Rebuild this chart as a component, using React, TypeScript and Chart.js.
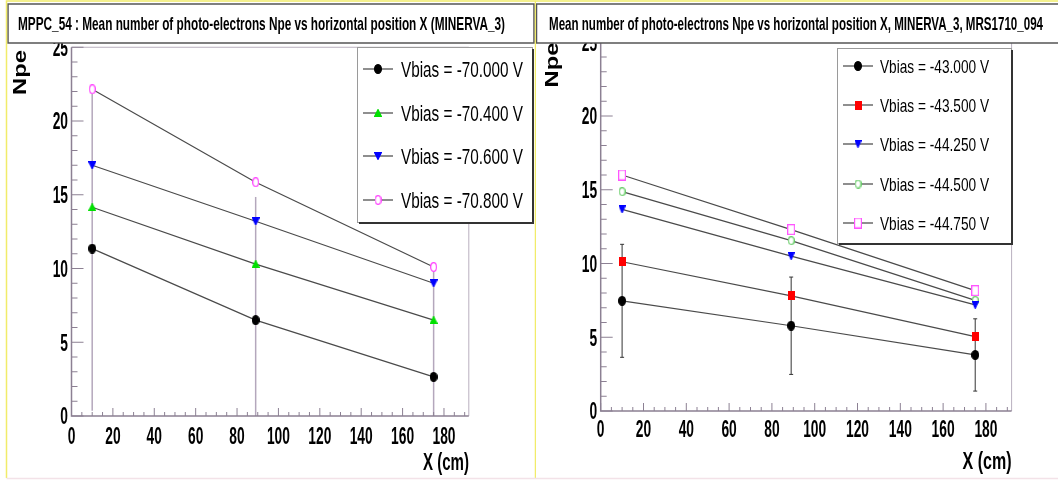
import React, { useEffect, useRef } from "react";
import { Chart, registerables } from "chart.js";

Chart.register(...registerables);

// ---------- DATA ----------
const xPositions = [10, 89, 175];

const leftSeriesLabels = [
  "Vbias = -70.000 V",
  "Vbias = -70.400 V",
  "Vbias = -70.600 V",
  "Vbias = -70.800 V",
];
const leftVbias70000 = [11.35, 6.5, 2.65];
const leftVbias70400 = [14.15, 10.3, 6.5];
const leftVbias70600 = [17.0, 13.2, 9.0];
const leftVbias70800 = [22.15, 15.85, 10.1];
const leftErrors70000 = [11.0, 8.35, 7.5];

const rightSeriesLabels = [
  "Vbias = -43.000 V",
  "Vbias = -43.500 V",
  "Vbias = -44.250 V",
  "Vbias = -44.500 V",
  "Vbias = -44.750 V",
];
const rightVbias43000 = [7.47, 5.78, 3.8];
const rightVbias43500 = [10.12, 7.8, 5.04];
const rightVbias44250 = [13.67, 10.5, 7.19];
const rightVbias44500 = [14.87, 11.55, 7.5];
const rightVbias44750 = [16.0, 12.3, 8.16];
const rightErrors43000 = [3.83, 3.3, 2.45];

const xTickLabels = ["0", "20", "40", "60", "80", "100", "120", "140", "160", "180"];
const yTickLabels = ["0", "5", "10", "15", "20", "25"];
const xRange = [0, 192];
const yRange = [0, 25];

const leftTitle =
  "MPPC_54 : Mean number of photo-electrons Npe vs horizontal position X (MINERVA_3)";
const rightTitle =
  "Mean number of photo-electrons Npe vs horizontal position X, MINERVA_3, MRS1710_094";
const xAxisTitle = "X (cm)";
const yAxisTitle = "Npe";

// ---------- STYLE ----------
const H = 482;
const FONT = '"Liberation Sans", Arial, Helvetica, sans-serif';
const AXIS = "#8c8093";
const FRAME_LIGHT = "#b9b0bf";

type Shape = "circle" | "up" | "down" | "rect";
type MarkerSpec = { shape: Shape; w: number; h: number; fill: string; stroke: string };

function makeMarker(m: MarkerSpec): HTMLCanvasElement {
  const c = document.createElement("canvas");
  c.width = m.w;
  c.height = m.h;
  const g = c.getContext("2d")!;
  const lw = 1.2;
  const p = lw / 2;
  const w = m.w, h = m.h;
  g.lineWidth = lw;
  g.fillStyle = m.fill;
  g.strokeStyle = m.stroke;
  g.beginPath();
  if (m.shape === "circle") g.ellipse(w / 2, h / 2, w / 2 - p, h / 2 - p, 0, 0, Math.PI * 2);
  else if (m.shape === "up") {
    g.moveTo(w / 2, p);
    g.lineTo(w - p, h - p);
    g.lineTo(p, h - p);
    g.closePath();
  } else if (m.shape === "down") {
    g.moveTo(p, p);
    g.lineTo(w - p, p);
    g.lineTo(w / 2, h - p);
    g.closePath();
  } else g.rect(p, p, w - 2 * p, h - 2 * p);
  g.fill();
  g.stroke();
  return c;
}

function drawText(
  ctx: CanvasRenderingContext2D,
  text: string,
  x: number,
  y: number,
  font: string,
  sx: number,
  align: CanvasTextAlign
) {
  ctx.save();
  ctx.font = font;
  ctx.textAlign = align;
  ctx.textBaseline = "alphabetic";
  ctx.fillStyle = "#000";
  ctx.translate(x, y);
  ctx.scale(sx, 1);
  ctx.fillText(text, 0, 0);
  ctx.restore();
}

function fitScale(ctx: CanvasRenderingContext2D, text: string, font: string, width: number) {
  ctx.save();
  ctx.font = font;
  const w = ctx.measureText(text).width;
  ctx.restore();
  return width / w;
}

type PanelSpec = {
  left: number;
  width: number;
  area: { left: number; right: number; top: number; bottom: number };
  series: { label: string; values: number[]; marker: MarkerSpec }[];
  errSeries: number[];
  errors: number[];
  errColor: string;
  errWidth: number;
  errCap: number;
  xLabelBaseline: number;
  yLabelRight: number;
  xTitle: { right: number; baseline: number; width: number };
  legend: {
    x1: number; y1: number; x2: number; y2: number;
    rows: number[]; lx1: number; lx2: number; mx: number;
    tx: number; tw: number; font: string; capHalf: number;
  };
  title: { x1: number; y1: number; x2: number; y2: number; text: string; tx: number; tw: number; baseline: number };
  npe: { cx: number; cy: number; len: number };
  border: "left" | "right";
};

const leftSpec: PanelSpec = {
  left: 0,
  width: 536,
  area: { left: 71.5, right: 468.8, top: 47.25, bottom: 416 },
  series: [
    { label: leftSeriesLabels[0], values: leftVbias70000, marker: { shape: "circle", w: 8, h: 10, fill: "#000", stroke: "#000" } },
    { label: leftSeriesLabels[1], values: leftVbias70400, marker: { shape: "up", w: 8, h: 8, fill: "#00e000", stroke: "#00e000" } },
    { label: leftSeriesLabels[2], values: leftVbias70600, marker: { shape: "down", w: 8, h: 8, fill: "#0000ff", stroke: "#0000ff" } },
    { label: leftSeriesLabels[3], values: leftVbias70800, marker: { shape: "circle", w: 7, h: 10, fill: "#ffffff", stroke: "#ff44ff" } },
  ],
  errSeries: leftVbias70000,
  errors: leftErrors70000,
  errColor: "#b4a7bc",
  errWidth: 1.5,
  errCap: 0,
  xLabelBaseline: 443.5,
  yLabelRight: 68,
  xTitle: { right: 469, baseline: 470, width: 46 },
  legend: {
    x1: 357, y1: 47, x2: 533, y2: 223,
    rows: [69, 113, 156, 200], lx1: 363, lx2: 393, mx: 378,
    tx: 401, tw: 122, font: `22px ${FONT}`, capHalf: 8,
  },
  title: { x1: 8, y1: 4, x2: 534, y2: 43, text: leftTitle, tx: 18, tw: 487, baseline: 30 },
  npe: { cx: 21.5, cy: 72.5, len: 45 },
  border: "left",
};

const rightSpec: PanelSpec = {
  left: 536,
  width: 522,
  area: { left: 64.7, right: 475.6, top: 42.25, bottom: 411 },
  series: [
    { label: rightSeriesLabels[0], values: rightVbias43000, marker: { shape: "circle", w: 8, h: 10, fill: "#000", stroke: "#000" } },
    { label: rightSeriesLabels[1], values: rightVbias43500, marker: { shape: "rect", w: 7, h: 9, fill: "#ff0000", stroke: "#ff0000" } },
    { label: rightSeriesLabels[2], values: rightVbias44250, marker: { shape: "down", w: 7, h: 8, fill: "#0000ff", stroke: "#0000ff" } },
    { label: rightSeriesLabels[3], values: rightVbias44500, marker: { shape: "circle", w: 7, h: 9, fill: "#ffffff", stroke: "#66cc66" } },
    { label: rightSeriesLabels[4], values: rightVbias44750, marker: { shape: "rect", w: 8, h: 11, fill: "#ffffff", stroke: "#ff55ff" } },
  ],
  errSeries: rightVbias43000,
  errors: rightErrors43000,
  errColor: "#333333",
  errWidth: 1,
  errCap: 2,
  xLabelBaseline: 436.5,
  yLabelRight: 61.2,
  xTitle: { right: 475.5, baseline: 469, width: 49 },
  legend: {
    x1: 301, y1: 48, x2: 476, y2: 244,
    rows: [66, 105, 144, 184, 223], lx1: 307, lx2: 337, mx: 322,
    tx: 344, tw: 109, font: `19px ${FONT}`, capHalf: 7,
  },
  title: { x1: 0.5, y1: 4, x2: 530, y2: 43, text: rightTitle, tx: 13, tw: 494, baseline: 30 },
  npe: { cx: 17, cy: 65, len: 45 },
  border: "right",
};

function decorPlugin(spec: PanelSpec, markers: HTMLCanvasElement[]) {
  return {
    id: "decor",
    beforeDatasetsDraw(chart: any) {
      const { ctx, chartArea: a } = chart;
      const xs = chart.scales.x, ys = chart.scales.y;
      ctx.save();
      ctx.strokeStyle = spec.errColor;
      ctx.lineWidth = spec.errWidth;
      xPositions.forEach((xv, i) => {
        const v = spec.errSeries[i];
        const e = spec.errors[i];
        const px = xs.getPixelForValue(xv);
        const yTop = ys.getPixelForValue(v + e);
        const yBot = ys.getPixelForValue(v - e);
        const t = Math.max(a.top, yTop);
        const b = Math.min(a.bottom, yBot);
        ctx.beginPath();
        ctx.moveTo(px, t);
        ctx.lineTo(px, b);
        if (spec.errCap > 0) {
          if (yTop >= a.top) { ctx.moveTo(px - spec.errCap, yTop); ctx.lineTo(px + spec.errCap, yTop); }
          if (yBot <= a.bottom) { ctx.moveTo(px - spec.errCap, yBot); ctx.lineTo(px + spec.errCap, yBot); }
        }
        ctx.stroke();
      });
      ctx.restore();
    },
    afterDraw(chart: any) {
      const { ctx, chartArea: a } = chart;
      const xs = chart.scales.x, ys = chart.scales.y;
      ctx.save();
      // frame
      ctx.strokeStyle = FRAME_LIGHT;
      ctx.lineWidth = 1;
      ctx.beginPath();
      ctx.moveTo(a.left, a.top);
      ctx.lineTo(a.right, a.top);
      ctx.lineTo(a.right, a.bottom);
      ctx.stroke();
      ctx.strokeStyle = AXIS;
      ctx.lineWidth = 1.5;
      ctx.beginPath();
      ctx.moveTo(a.left, a.top);
      ctx.lineTo(a.left, a.bottom);
      ctx.lineTo(a.right, a.bottom);
      ctx.stroke();
      // x ticks
      ctx.lineWidth = 1;
      ctx.beginPath();
      for (let v = 0; v <= xRange[1]; v += 5) {
        const px = xs.getPixelForValue(v);
        const len = v % 20 === 0 ? 8 : 4;
        ctx.moveTo(px, a.bottom);
        ctx.lineTo(px, a.bottom - len);
      }
      // y ticks
      for (let v = 0; v <= yRange[1]; v += 1) {
        const py = ys.getPixelForValue(v);
        const len = v % 5 === 0 ? 12 : 6;
        ctx.moveTo(a.left, py);
        ctx.lineTo(a.left + len, py);
      }
      ctx.stroke();
      ctx.restore();

      // tick labels
      const tickFont = `bold 23px ${FONT}`;
      xTickLabels.forEach((lab) => {
        const px = xs.getPixelForValue(Number(lab));
        drawText(ctx, lab, px, spec.xLabelBaseline, tickFont, 0.6, "center");
      });
      yTickLabels.forEach((lab) => {
        const py = ys.getPixelForValue(Number(lab));
        drawText(ctx, lab, spec.yLabelRight, py + 8.25, tickFont, 0.6, "right");
      });
      // x axis title
      const xtFont = `bold 23px ${FONT}`;
      drawText(ctx, xAxisTitle, spec.xTitle.right, spec.xTitle.baseline, xtFont,
        fitScale(ctx, xAxisTitle, xtFont, spec.xTitle.width), "right");

      // legend
      const L = spec.legend;
      ctx.save();
      ctx.fillStyle = "#fff";
      ctx.fillRect(L.x1, L.y1, L.x2 - L.x1, L.y2 - L.y1);
      ctx.strokeStyle = "#9a9a9a";
      ctx.lineWidth = 1;
      ctx.strokeRect(L.x1 + 0.5, L.y1 + 0.5, L.x2 - L.x1 - 1, L.y2 - L.y1 - 1);
      ctx.strokeStyle = "#333";
      ctx.lineWidth = 2;
      ctx.beginPath();
      ctx.moveTo(L.x2, L.y1 + 2);
      ctx.lineTo(L.x2, L.y2);
      ctx.lineTo(L.x1 + 2, L.y2);
      ctx.stroke();
      ctx.restore();
      spec.series.forEach((s, i) => {
        const ry = L.rows[i];
        ctx.save();
        ctx.strokeStyle = "#444";
        ctx.lineWidth = 1.2;
        ctx.beginPath();
        ctx.moveTo(L.lx1, ry);
        ctx.lineTo(L.lx2, ry);
        ctx.stroke();
        const mk = markers[i];
        ctx.drawImage(mk, L.mx - mk.width / 2, ry - mk.height / 2);
        ctx.restore();
        drawText(ctx, s.label, L.tx, ry + L.capHalf, L.font, fitScale(ctx, s.label, L.font, L.tw), "left");
      });

      // Npe label (rotated)
      const nf = `bold 18px ${FONT}`;
      const ns = fitScale(ctx, yAxisTitle, nf, spec.npe.len);
      ctx.save();
      ctx.translate(spec.npe.cx, spec.npe.cy);
      ctx.rotate(-Math.PI / 2);
      ctx.scale(ns, 1);
      ctx.font = nf;
      ctx.textAlign = "center";
      ctx.textBaseline = "middle";
      ctx.fillStyle = "#000";
      ctx.fillText(yAxisTitle, 0, 0);
      ctx.restore();

      // title box
      const T = spec.title;
      ctx.save();
      ctx.fillStyle = "#fff";
      ctx.fillRect(T.x1, T.y1, T.x2 - T.x1, T.y2 - T.y1);
      ctx.strokeStyle = "#555";
      ctx.lineWidth = 1.5;
      ctx.strokeRect(T.x1, T.y1, T.x2 - T.x1, T.y2 - T.y1);
      ctx.restore();
      const tf = `bold 19px ${FONT}`;
      drawText(ctx, T.text, T.tx, T.baseline, tf, fitScale(ctx, T.text, tf, T.tw), "left");

      // page borders
      ctx.save();
      ctx.lineWidth = 1.5;
      if (spec.border === "left") {
        ctx.strokeStyle = "#f1ec6a";
        ctx.beginPath();
        ctx.moveTo(6.5, 478);
        ctx.lineTo(6.5, 1);
        ctx.lineTo(535.5, 1);
        ctx.lineTo(535.5, 478);
        ctx.stroke();
      } else {
        ctx.strokeStyle = "#f1ec6a";
        ctx.beginPath();
        ctx.moveTo(0, 1);
        ctx.lineTo(spec.width, 1);
        ctx.stroke();
      }
      ctx.strokeStyle = "#f3e2e8";
      ctx.beginPath();
      ctx.moveTo(spec.border === "left" ? 6.5 : 0, 478.5);
      ctx.lineTo(spec.width, 478.5);
      ctx.stroke();
      ctx.restore();
    },
  };
}

function Panel({ spec }: { spec: PanelSpec }) {
  const ref = useRef<HTMLCanvasElement>(null);
  useEffect(() => {
    const canvas = ref.current!;
    const markers = spec.series.map((s) => makeMarker(s.marker));
    const chart = new Chart(canvas, {
      type: "line",
      data: {
        datasets: spec.series.map((s, i) => ({
          label: s.label,
          data: xPositions.map((x, j) => ({ x, y: s.values[j] })),
          borderColor: "#4a4a4a",
          borderWidth: 1.2,
          pointStyle: markers[i] as any,
          pointRadius: 5,
          pointHoverRadius: 5,
          tension: 0,
          fill: false,
          clip: false as any,
        })),
      },
      options: {
        animation: false,
        responsive: false,
        events: [],
        layout: {
          padding: {
            left: spec.area.left,
            right: spec.width - spec.area.right,
            top: spec.area.top,
            bottom: H - spec.area.bottom,
          },
        },
        scales: {
          x: { type: "linear", min: xRange[0], max: xRange[1], display: false },
          y: { type: "linear", min: yRange[0], max: yRange[1], display: false },
        },
        plugins: {
          legend: { display: false },
          title: { display: false },
          tooltip: { enabled: false },
        },
      },
      plugins: [decorPlugin(spec, markers) as any],
    });
    return () => chart.destroy();
  }, [spec]);
  return (
    <canvas
      ref={ref}
      width={spec.width}
      height={H}
      style={{ position: "absolute", left: spec.left, top: 0, width: spec.width, height: H }}
    />
  );
}

export default function App() {
  return (
    <div style={{ position: "fixed", left: 0, top: 0, width: 1058, height: H, background: "#fff", overflow: "hidden" }}>
      <Panel spec={leftSpec} />
      <Panel spec={rightSpec} />
    </div>
  );
}
